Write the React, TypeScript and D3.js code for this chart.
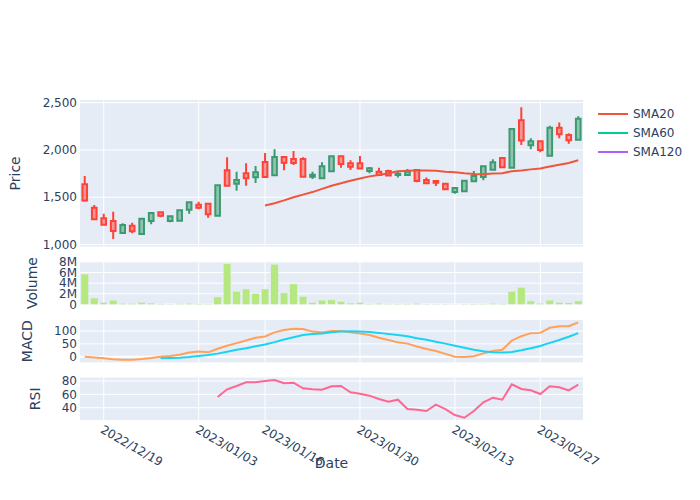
import { useEffect, useRef } from 'react';
import * as d3 from 'd3';

// trading days (Tokyo calendar, weekends and holidays skipped)
const DATES = [
  '2022-12-15', '2022-12-16', '2022-12-19', '2022-12-20', '2022-12-21', '2022-12-22', '2022-12-23',
  '2022-12-26', '2022-12-27', '2022-12-28', '2022-12-29', '2022-12-30',
  '2023-01-04', '2023-01-05', '2023-01-06', '2023-01-10', '2023-01-11', '2023-01-12', '2023-01-13',
  '2023-01-16', '2023-01-17', '2023-01-18', '2023-01-19', '2023-01-20', '2023-01-23', '2023-01-24',
  '2023-01-25', '2023-01-26', '2023-01-27', '2023-01-30', '2023-01-31',
  '2023-02-01', '2023-02-02', '2023-02-03', '2023-02-06', '2023-02-07', '2023-02-08', '2023-02-09',
  '2023-02-10', '2023-02-13', '2023-02-14', '2023-02-15', '2023-02-16', '2023-02-17', '2023-02-20',
  '2023-02-21', '2023-02-22', '2023-02-24', '2023-02-27', '2023-02-28',
  '2023-03-01', '2023-03-02', '2023-03-03',
];

const OPEN = [
  1637, 1390, 1278, 1250, 1123, 1200, 1112, 1250, 1341, 1250, 1253, 1369, 1422, 1433, 1306, 1785,
  1644, 1753, 1711, 1873, 1732, 1926, 1905, 1905, 1718, 1701, 1775, 1933, 1859, 1859, 1778, 1771,
  1778, 1736, 1736, 1789, 1683, 1672, 1644, 1556, 1563, 1669, 1715, 1792, 1915, 1813, 2314, 2049,
  2092, 1940, 2236, 2159, 2109,
];
const HIGH = [
  1725, 1419, 1327, 1348, 1225, 1232, 1278, 1341, 1352, 1306, 1373, 1454, 1454, 1443, 1630, 1922,
  1771, 1859, 1831, 1968, 2007, 1933, 1989, 1922, 1771, 1870, 1937, 1940, 1891, 1937, 1820, 1813,
  1792, 1778, 1799, 1799, 1708, 1679, 1651, 1609, 1683, 1778, 1834, 1901, 1922, 2229, 2451, 2123,
  2099, 2257, 2289, 2176, 2356,
];
const LOW = [
  1454, 1260, 1204, 1059, 1116, 1119, 1109, 1214, 1288, 1236, 1243, 1327, 1373, 1285, 1299, 1616,
  1570, 1623, 1651, 1708, 1725, 1785, 1841, 1711, 1693, 1693, 1767, 1813, 1789, 1803, 1753, 1732,
  1725, 1708, 1736, 1658, 1644, 1620, 1581, 1538, 1560, 1665, 1679, 1785, 1813, 1806, 2053, 2007,
  1975, 1940, 2123, 2067, 2102,
];
const CLOSE = [
  1465, 1267, 1211, 1144, 1207, 1140, 1274, 1334, 1306, 1299, 1362, 1447, 1390, 1320, 1627, 1623,
  1683, 1701, 1764, 1715, 1926, 1866, 1863, 1718, 1739, 1827, 1933, 1852, 1824, 1803, 1806, 1736,
  1729, 1750, 1771, 1672, 1648, 1655, 1584, 1598, 1676, 1725, 1827, 1870, 1817, 2222, 2099, 2092,
  2000, 2236, 2166, 2102, 2331,
];
// millions of shares
const VOLUME = [
  5.7, 1.2, 0.35, 0.8, 0.2, 0.2, 0.4, 0.25, 0.1, 0.05, 0.15, 0.2, 0.1, 0.08, 1.4, 7.65, 2.45, 2.9,
  2.0, 2.9, 7.55, 2.15, 3.85, 1.5, 0.35, 0.8, 0.85, 0.55, 0.25, 0.35, 0.1, 0.2, 0.1, 0.1, 0.12, 0.2,
  0.05, 0.05, 0.05, 0.03, 0.05, 0.08, 0.08, 0.2, 0.15, 2.45, 3.2, 0.65, 0.2, 0.8, 0.4, 0.3, 0.65,
];
const SMA20: (number | null)[] = [
  null, null, null, null, null, null, null, null, null, null, null, null, null, null, null, null,
  null, null, null, 1414, 1437, 1467, 1500, 1528, 1555, 1589, 1622, 1648, 1674, 1699, 1721, 1736,
  1753, 1774, 1781, 1784, 1782, 1780, 1771, 1765, 1753, 1745, 1744, 1751, 1755, 1775, 1783, 1795,
  1804, 1826, 1844, 1862, 1892,
];
const SMA60: (number | null)[] = DATES.map(() => null);
const SMA120: (number | null)[] = DATES.map(() => null);
const MACD: (number | null)[] = [
  0, -3, -6, -10, -12, -12, -9, -5, 0, 3, 8, 16, 20, 17, 31, 43, 53, 63, 74, 79, 95, 104, 109, 108,
  98, 95, 100, 100, 95, 91, 85, 74, 65, 56, 51, 40, 30, 22, 11, 0, -1, 2, 13, 22, 27, 63, 80, 92, 93,
  113, 119, 119, 134,
];
const SIGNAL: (number | null)[] = [
  null, null, null, null, null, null, null, null, -6, -5, -4, -1, 3, 6.5, 12, 19, 27, 33, 41, 48, 57,
  67, 76, 85, 89, 91, 95, 98, 99, 98, 96, 93, 89, 85, 80, 72, 66, 58, 51, 43, 35, 27, 21, 17, 16, 18,
  25, 33, 42, 54, 65, 78, 92,
];
const RSI: (number | null)[] = [
  null, null, null, null, null, null, null, null, null, null, null, null, null, null, 56, 67.5, 72.5,
  78, 78, 80, 81.5, 76.5, 77.5, 69, 67.5, 67, 72, 72.5, 63, 61, 58, 53, 49, 52, 38, 37, 35, 44.5, 38,
  29, 25, 35, 48, 55, 52, 75, 68, 66, 60.5, 72, 70.5, 66, 74.5,
];

const X_TICKS = ['2022-12-19', '2023-01-03', '2023-01-16', '2023-01-30', '2023-02-13', '2023-02-27'];
const PRICE_TICKS = [1000, 1500, 2000, 2500];
const VOLUME_TICKS = [0, 2, 4, 6, 8];
const MACD_TICKS = [0, 50, 100];
const RSI_TICKS = [40, 60, 80];
const LEGEND = ['SMA20', 'SMA60', 'SMA120'];

const FONT = '"DejaVu Sans", verdana, sans-serif';
const INK = '#2a3f5f';
const BG = '#E5ECF6';
const INC = '#3D9970';
const DEC = '#FF4136';
const LEGEND_COLORS = ['#EF553B', '#00CC96', '#AB63FA'];

const LEFT = 80;
const RIGHT = 583;

export default function App() {
  const svgRef = useRef<SVGSVGElement>(null);

  useEffect(() => {
    if (!svgRef.current) return;
    const svg = d3.select(svgRef.current);
    svg.selectAll('*').remove();

    const x = d3.scalePoint<string>().domain(DATES).range([LEFT, RIGHT]).padding(0.5);
    const step = x.step();
    // a tick date that falls on a closed day sits on the next trading day
    const tickX = (d: string) => x(DATES[d3.bisectLeft(DATES, d)]) as number;

    const panels = [
      { key: 'price', top: 100, bottom: 246.7, domain: [978, 2528], ticks: PRICE_TICKS,
        fmt: d3.format(','), title: 'Price', titleX: 19.5 },
      { key: 'volume', top: 261.7, bottom: 304.4, domain: [0, 8.03], ticks: VOLUME_TICKS,
        fmt: (v: number) => (v === 0 ? '0' : `${v}M`), title: 'Volume', titleX: 37 },
      { key: 'macd', top: 319.9, bottom: 362.4, domain: [-22.3, 143.7], ticks: MACD_TICKS,
        fmt: d3.format('d'), title: 'MACD', titleX: 32 },
      { key: 'rsi', top: 377.5, bottom: 420, domain: [21.6, 85.2], ticks: RSI_TICKS,
        fmt: d3.format('d'), title: 'RSI', titleX: 40 },
    ];

    const ys: Record<string, d3.ScaleLinear<number, number>> = {};

    panels.forEach((p) => {
      const y = d3.scaleLinear().domain(p.domain).range([p.bottom, p.top]);
      ys[p.key] = y;
      const g = svg.append('g');

      g.append('rect')
        .attr('x', LEFT).attr('y', p.top)
        .attr('width', RIGHT - LEFT).attr('height', p.bottom - p.top)
        .attr('fill', BG);

      X_TICKS.forEach((d) => {
        g.append('line')
          .attr('x1', tickX(d)).attr('x2', tickX(d))
          .attr('y1', p.top).attr('y2', p.bottom)
          .attr('stroke', '#fff').attr('stroke-width', 1);
      });

      p.ticks.forEach((t) => {
        g.append('line')
          .attr('x1', LEFT).attr('x2', RIGHT)
          .attr('y1', y(t)).attr('y2', y(t))
          .attr('stroke', '#fff')
          .attr('stroke-width', t === 0 ? 2 : 1);
        g.append('text')
          .attr('x', 77).attr('y', y(t)).attr('dy', '0.35em')
          .attr('text-anchor', 'end')
          .attr('font-family', FONT).attr('font-size', 12).attr('fill', INK)
          .text(p.fmt(t));
      });

      g.append('text')
        .attr('transform', `translate(${p.titleX},${(p.top + p.bottom) / 2}) rotate(-90)`)
        .attr('text-anchor', 'middle')
        .attr('font-family', FONT).attr('font-size', 14).attr('fill', INK)
        .text(p.title);
    });

    // candles
    const yP = ys.price;
    const bw = step * 0.49;
    const candles = svg.append('g');
    DATES.forEach((d, i) => {
      const cx = x(d) as number;
      const up = CLOSE[i] >= OPEN[i];
      const color = up ? INC : DEC;
      const top = yP(Math.max(OPEN[i], CLOSE[i]));
      const bot = yP(Math.min(OPEN[i], CLOSE[i]));
      const path = `M${cx - bw / 2},${bot}H${cx + bw / 2}V${top}H${cx - bw / 2}Z`
        + `M${cx},${bot}V${yP(LOW[i])}M${cx},${top}V${yP(HIGH[i])}`;
      candles.append('path')
        .attr('d', path)
        .attr('fill', d3.color(color)!.copy({ opacity: 0.5 }).formatRgb())
        .attr('stroke', color)
        .attr('stroke-width', 2);
    });

    const lineOf = (y: d3.ScaleLinear<number, number>) => d3.line<number | null>()
      .defined((v) => v != null)
      .x((_, i) => x(DATES[i]) as number)
      .y((v) => y(v as number));

    [SMA20, SMA60, SMA120].forEach((s, k) => {
      svg.append('path')
        .attr('d', lineOf(yP)(s) || '')
        .attr('fill', 'none')
        .attr('stroke', LEGEND_COLORS[k])
        .attr('stroke-width', 2);
    });

    // volume
    const yV = ys.volume;
    const vw = step * 0.8;
    svg.append('g').selectAll('rect')
      .data(VOLUME)
      .join('rect')
      .attr('x', (_, i) => (x(DATES[i]) as number) - vw / 2)
      .attr('width', vw)
      .attr('y', (v) => yV(v))
      .attr('height', (v) => yV(0) - yV(v))
      .attr('fill', '#B6E880')
      .attr('stroke', BG)
      .attr('stroke-width', 0.5);

    svg.append('path')
      .attr('d', lineOf(ys.macd)(MACD) || '')
      .attr('fill', 'none').attr('stroke', '#FFA15A').attr('stroke-width', 2);
    svg.append('path')
      .attr('d', lineOf(ys.macd)(SIGNAL) || '')
      .attr('fill', 'none').attr('stroke', '#19D3F3').attr('stroke-width', 2);
    svg.append('path')
      .attr('d', lineOf(ys.rsi)(RSI) || '')
      .attr('fill', 'none').attr('stroke', '#FF6692').attr('stroke-width', 2);

    // x tick labels, rotated like plotly's auto angle
    X_TICKS.forEach((d) => {
      svg.append('text')
        .attr('transform', `translate(${tickX(d) - 4},432) rotate(30)`)
        .attr('font-family', FONT).attr('font-size', 12).attr('fill', INK)
        .text(d.replace(/-/g, '/'));
    });
    svg.append('text')
      .attr('x', (LEFT + RIGHT) / 2).attr('y', 468)
      .attr('text-anchor', 'middle')
      .attr('font-family', FONT).attr('font-size', 14).attr('fill', INK)
      .text('Date');

    // legend
    LEGEND.forEach((name, k) => {
      const ly = 114 + k * 19;
      svg.append('line')
        .attr('x1', 598).attr('x2', 628).attr('y1', ly).attr('y2', ly)
        .attr('stroke', LEGEND_COLORS[k]).attr('stroke-width', 2);
      svg.append('text')
        .attr('x', 633).attr('y', ly).attr('dy', '0.35em')
        .attr('font-family', FONT).attr('font-size', 12).attr('fill', INK)
        .text(name);
    });
  }, []);

  return (
    <svg
      ref={svgRef}
      width={700}
      height={500}
      style={{ position: 'absolute', left: 0, top: 0, background: '#fff' }}
    />
  );
}
